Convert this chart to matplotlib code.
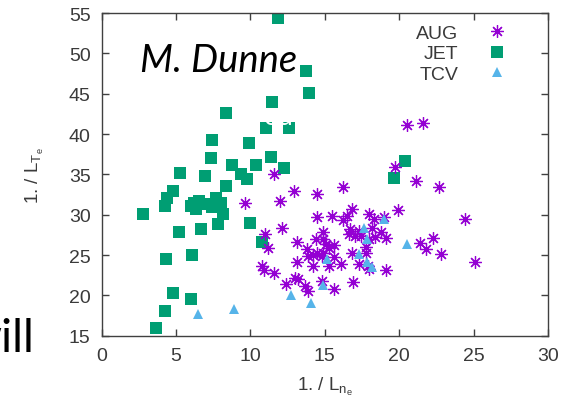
import matplotlib
matplotlib.use("Agg")
import matplotlib.pyplot as plt

# data
aug_x = [20.5, 21.6, 19.7, 21.1, 22.7, 11.6, 12.9, 14.5, 16.2, 9.6, 12.0, 19.9,
         24.4, 25.1, 11.0, 12.1, 11.2, 13.1, 10.8, 10.9, 11.6, 12.4, 13.0, 13.2,
         13.7, 13.9, 13.1, 13.8, 13.9, 14.2, 14.5, 14.2, 14.4, 14.9, 14.5, 15.5,
         16.5, 16.2, 16.8, 18.0, 19.0, 14.9, 15.1, 15.3, 14.9, 14.8, 15.6, 15.3,
         16.1, 14.8, 15.6, 16.9, 16.8, 16.6, 16.7, 17.0, 17.3, 17.4, 17.3, 17.8,
         17.8, 18.0, 18.4, 18.2, 18.3, 19.1, 18.8, 17.9, 18.0, 19.1, 21.4, 21.8,
         22.3, 22.8, 15.6]
aug_y = [41.1, 41.4, 35.9, 34.2, 33.4, 35.0, 32.9, 32.6, 33.4, 31.4, 31.7, 30.6,
         29.5, 24.1, 27.6, 28.4, 25.9, 26.6, 23.7, 23.1, 22.8, 21.4, 22.1, 22.0,
         21.2, 20.5, 24.1, 25.7, 24.9, 25.0, 25.3, 23.7, 27.0, 27.8, 29.7, 29.9,
         29.9, 29.3, 30.7, 30.1, 29.7, 27.0, 26.4, 25.9, 25.3, 24.9, 24.7, 23.7,
         23.9, 21.8, 20.8, 21.6, 25.3, 27.6, 28.2, 27.4, 28.0, 27.4, 23.9, 25.3,
         26.0, 27.0, 27.2, 28.4, 29.5, 27.1, 27.8, 23.7, 23.3, 23.1, 26.5, 25.7,
         27.1, 25.1, 26.2]

jet_x = [11.84, 13.72, 13.94, 11.45, 8.38, 11.04, 12.61, 7.42, 9.9, 7.34, 11.4,
         10.36, 8.74, 12.25, 9.35, 9.76, 6.96, 5.24, 8.33, 4.76, 4.4, 4.23, 6.21,
         6.57, 6.33, 7.66, 8.02, 7.42, 8.14, 7.85, 2.78, 5.17, 6.69, 10.0, 10.8,
         4.32, 6.06, 4.81, 5.97, 4.28, 3.62, 19.64, 20.36, 7.05, 5.97]
jet_y = [54.4, 47.8, 45.1, 44.0, 42.6, 40.8, 40.8, 39.3, 38.9, 37.0, 37.2,
         36.2, 36.1, 35.8, 35.1, 34.4, 34.8, 35.2, 33.6, 32.9, 32.1, 31.1, 31.5,
         31.7, 30.7, 32.1, 31.5, 30.9, 30.1, 28.9, 30.1, 27.9, 28.2, 29.0, 26.6,
         24.5, 25.0, 20.3, 19.6, 18.1, 15.9, 34.6, 36.7, 31.3, 31.1]

tcv_x = [6.5, 8.9, 12.7, 14.1, 14.9, 15.15, 17.3, 17.6, 17.85, 17.85, 18.2, 18.95, 20.5]
tcv_y = [17.7, 18.3, 20.0, 19.1, 21.3, 24.5, 25.1, 28.3, 27.0, 24.1, 23.5, 29.5, 26.4]

plt.rcParams['font.family'] = ['Liberation Sans', 'DejaVu Sans']
plt.rcParams['mathtext.fontset'] = 'custom'
plt.rcParams['mathtext.rm'] = 'Liberation Sans'
plt.rcParams['mathtext.it'] = 'Liberation Sans'

fig = plt.figure(figsize=(5.64, 4.02), dpi=100)
ax = fig.add_axes([0.1803, 0.1624, 0.7913, 0.8027])

h_jet, = ax.plot(jet_x, jet_y, ls='none', marker='s', ms=8.8, mew=0,
                 color='#009e73', label='JET')
h_aug, = ax.plot(aug_x, aug_y, ls='none', marker=(8, 2, 0), ms=9, mew=0.9,
                 color='#9400d3', label='AUG')
h_tcv, = ax.plot(tcv_x, tcv_y, ls='none', marker='^', ms=7.5, mew=0,
                 color='#56b4e9', label='TCV')

ax.set_xlim(0, 30)
ax.set_ylim(15, 55)
ax.set_xticks(range(0, 31, 5))
ax.set_yticks(range(15, 56, 5))
ax.tick_params(direction='in', length=5, width=1, top=True, right=True,
               labelsize=14, labelcolor='#3a3a3a', color='#404040', pad=8)
for s in ax.spines.values():
    s.set_color('#404040')
    s.set_linewidth(1)

ax.set_xlabel(r'1. / $\mathregular{L_{n_e}}$', fontsize=13.5, color='#3a3a3a')
ax.set_ylabel(r'1. / $\mathregular{L_{T_e}}$', fontsize=13.5, color='#3a3a3a')
ax.xaxis.set_label_coords(0.5, -0.12)
ax.yaxis.set_label_coords(-0.125, 0.5)

leg = ax.legend(handles=[h_aug, h_jet, h_tcv], loc='upper right',
                bbox_to_anchor=(0.93, 0.965), frameon=False, markerfirst=False,
                fontsize=14, handletextpad=1.0, labelspacing=0.15,
                borderpad=0, borderaxespad=0, handlelength=2)
for t in leg.get_texts():
    t.set_color('#3a3a3a')

# slide text around the chart
fig.text(140 / 564, 1 - 72 / 402, 'M. Dunne', fontsize=27.5, style='italic',
         family=['Lato', 'DejaVu Sans'], color='black', va='baseline')
fig.text(34 / 564, 1 - 352 / 402, 'will', fontsize=33,
         family=['Lato', 'DejaVu Sans'], color='black', ha='right', va='baseline')
fig.text(264 / 564, 1 - 125 / 402, 'ou', fontsize=19,
         family=['Lato', 'DejaVu Sans'], color='white', va='baseline')

fig.savefig('out.png', dpi=100)
